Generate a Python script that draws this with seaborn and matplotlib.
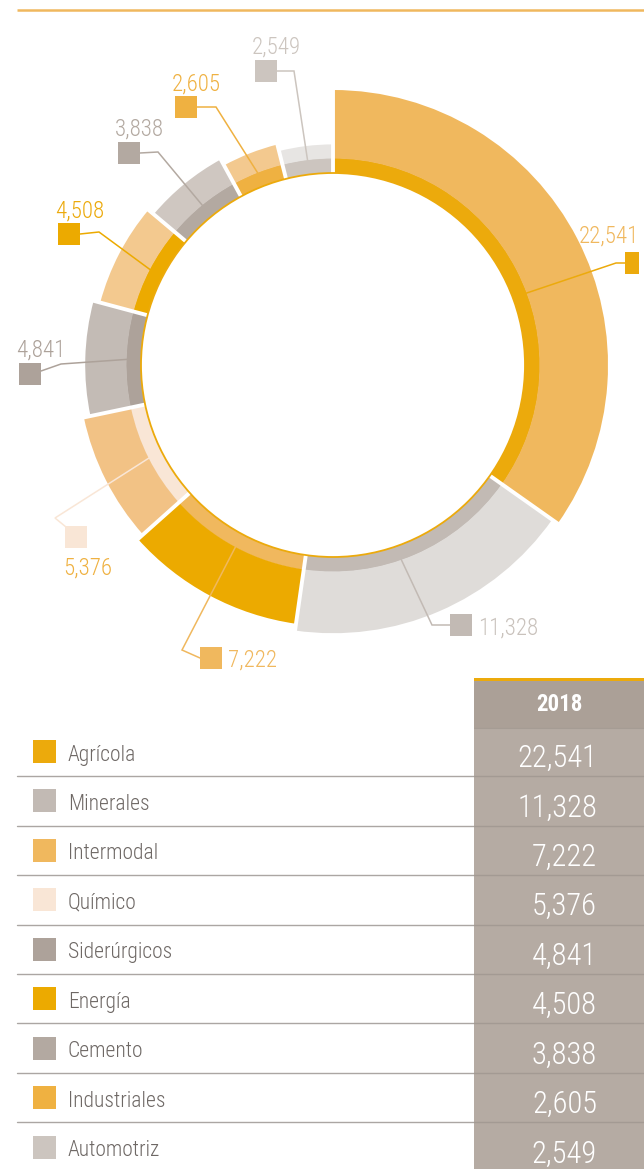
import numpy as np
import matplotlib
matplotlib.use("Agg")
import matplotlib.pyplot as plt
from matplotlib.patches import Rectangle, Circle
import seaborn as sns

# --- Data ---
categories = ["Agrícola", "Minerales", "Intermodal", "Químico", "Siderúrgicos",
              "Energía", "Cemento", "Industriales", "Automotriz"]
values_2018 = [22541, 11328, 7222, 5376, 4841, 4508, 3838, 2605, 2549]
year_label = "2018"

# --- Style ---
inner_colors = ["#ECAA0C", "#C2BAB4", "#F0B85E", "#F9E6D6", "#ADA29A",
                "#ECAA00", "#B3A9A1", "#EFB141", "#CCC5BF"]
outer_colors = ["#F0B85E", "#DFDCD9", "#ECAA00", "#F2C285", "#C3BBB5",
                "#F3C98F", "#CFC7C1", "#F3C98F", "#E7E5E3"]
text_colors = ["#F0B85E", "#C9C2BC", "#F0B85E", "#EFB141", "#ADA29A",
               "#ECAA0C", "#B3A9A1", "#EFB141", "#CCC5BF"]

W, H = 644, 1169


def Y(y):
    # pixel rows (top-down) -> data y (bottom-up)
    return H - y


cx, cy = 333, Y(365)
r_hole, r_ring, r_max, r_step = 192, 207, 275, 6.8

# label layout in pixels: elbow point, square top-left, text anchor
elbows = [(616, 263), (432, 625), (182, 650), (55, 518), (61, 364),
          (99, 232), (158, 152), (216, 107), (294, 71)]
squares = [(625, 252), (450, 614), (200, 647), (65, 526), (19, 363),
           (58, 223), (118, 142), (175, 96), (255, 60)]
sq_w = [14, 22, 22, 22, 22, 22, 22, 22, 22]
leader_shift = [-7, -4, 0, 0, 0, 0, 0, 0, 0]  # degrees, nudges the leader start
texts_at = [(639, 243, "right"), (478, 635, "left"), (228, 667, "left"),
            (63, 575, "left"), (16, 357, "left"), (55, 218, "left"),
            (115, 136, "left"), (172, 91, "left"), (252, 54, "left")]

sns.set_theme(style="white")
plt.rcParams["font.family"] = ["Roboto Condensed", "Archivo Narrow", "DejaVu Sans"]

fig = plt.figure(figsize=(W / 100, H / 100), dpi=100)
ax = fig.add_axes([0, 0, 1, 1])

# --- Donut ---
inner, _ = ax.pie(values_2018, colors=inner_colors, startangle=90, counterclock=False,
                  radius=r_ring, center=(cx, cy),
                  wedgeprops=dict(width=r_ring - r_hole, linewidth=0))
outer, _ = ax.pie(values_2018, colors=outer_colors, startangle=90, counterclock=False,
                  radius=r_max, center=(cx, cy),
                  wedgeprops=dict(width=r_max - r_ring, linewidth=0))
radii = [r_max - r_step * i for i in range(len(values_2018))]
for w, r in zip(outer, radii):
    w.set_radius(r)
    w.set_width(r - r_ring + 0.5)

total = sum(values_2018)
cum = np.concatenate([[0], np.cumsum(values_2018)]) / total * 360
bounds = np.deg2rad(90 - cum)
mids = np.deg2rad(90 - (cum[:-1] + cum[1:]) / 2 + np.array(leader_shift))

# white separators
for k, a in enumerate(bounds[:-1]):
    r_out = max(radii[k], radii[k - 1]) + 3
    ax.plot([cx + (r_hole - 1) * np.cos(a), cx + r_out * np.cos(a)],
            [cy + (r_hole - 1) * np.sin(a), cy + r_out * np.sin(a)],
            color="white", lw=2.8, solid_capstyle="butt", zorder=3)

ax.add_patch(Circle((cx, cy), r_hole, fill=False, ec="#ECAA0C", lw=1.3, zorder=4))

# leaders, squares, value labels
for i, v in enumerate(values_2018):
    a = mids[i]
    x0, y0 = cx + (r_ring - 1) * np.cos(a), cy + (r_ring - 1) * np.sin(a)
    ex, ey = elbows[i]
    sx, sy = squares[i]
    if ex > sx:
        tx, ty = sx + sq_w[i], sy + 11
    else:
        tx, ty = sx, sy + 11
    if i == 3:
        tx, ty = sx + 1, sy + 1
    if i == 4:
        tx, ty = sx + 22, sy + 8
    ax.plot([x0, ex, tx], [y0, Y(ey), Y(ty)], color=inner_colors[i], lw=1.1,
            solid_joinstyle="miter", zorder=5)
    ax.add_patch(Rectangle((sx, Y(sy + 22)), sq_w[i], 22, color=inner_colors[i],
                           lw=0, zorder=6))
    lx, ly, ha = texts_at[i]
    ax.text(lx, Y(ly), f"{v:,}", color=text_colors[i], fontsize=16.5,
            fontweight="light", ha=ha, va="baseline", zorder=6)

# top rule
ax.plot([17, W], [Y(10), Y(10)], color="#F0B85E", lw=1.8, solid_capstyle="butt")

# --- Table ---
col_x0 = 474
row0, row_h = 751.5, 49.44
ax.add_patch(Rectangle((col_x0, Y(H)), W - col_x0, H - 678, color="#B5ABA3", lw=0))
ax.add_patch(Rectangle((col_x0, Y(728)), W - col_x0, 50, color="#ABA097", lw=0))
ax.add_patch(Rectangle((col_x0, Y(680.5)), W - col_x0, 2.5, color="#ECAA0C", lw=0))
ax.plot([col_x0, W], [Y(728), Y(728)], color="#A59C94", lw=0.8)
ax.text((col_x0 + W) / 2, Y(711), year_label, color="white", fontsize=16.5,
        fontweight="bold", ha="center", va="baseline")

for i, (name, v) in enumerate(zip(categories, values_2018)):
    yc = row0 + row_h * i
    ax.add_patch(Rectangle((33, Y(yc + 11.5)), 23, 23, color=inner_colors[i], lw=0))
    ax.text(68, Y(yc + 9), name, color="#6E6865", fontsize=15.5, fontweight="light",
            ha="left", va="baseline")
    ax.text(597, Y(yc + 15.5), f"{v:,}", color="white", fontsize=22,
            fontweight="light", ha="right", va="baseline")
    if i < len(categories) - 1:
        ys = yc + row_h / 2
        ax.plot([17, col_x0], [Y(ys), Y(ys)], color="#ABA6A3", lw=1.0)
        ax.plot([col_x0, W], [Y(ys), Y(ys)], color="#A39A93", lw=1.0)

ax.set_xlim(0, W)
ax.set_ylim(0, H)
ax.set_aspect("equal")
ax.axis("off")

fig.savefig("out.png", dpi=100)
